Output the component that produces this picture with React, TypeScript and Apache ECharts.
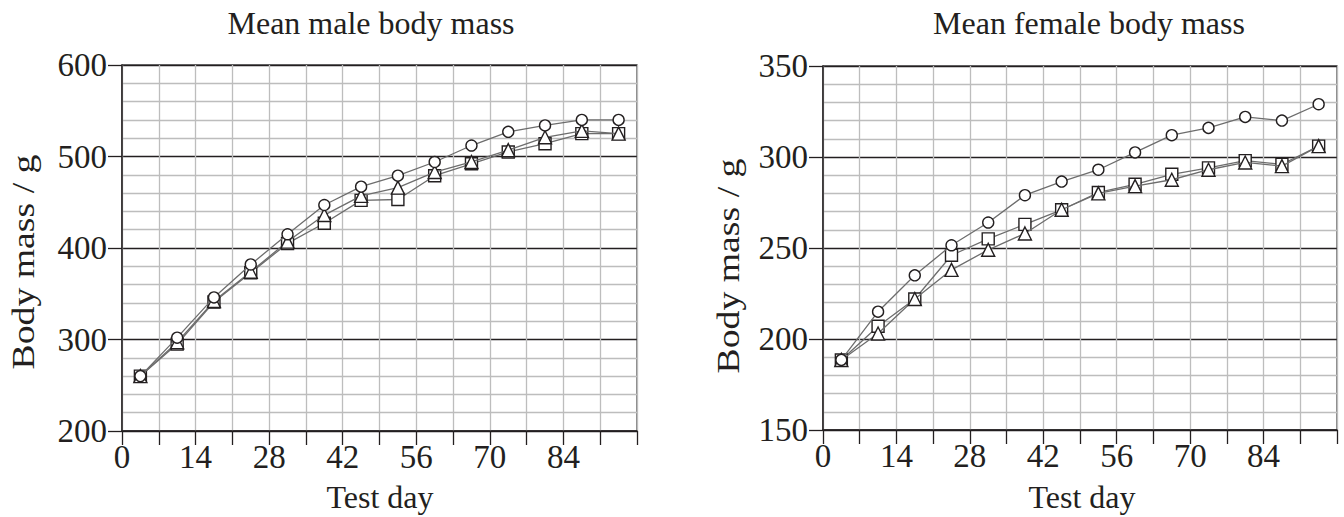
import React, { useEffect, useRef } from "react";
import * as echarts from "echarts";

const days = [3.5, 10.5, 17.5, 24.5, 31.5, 38.5, 45.5, 52.5, 59.5, 66.5, 73.5, 80.5, 87.5, 94.5];

const maleCircle = [260, 302, 346, 382, 415, 447, 467, 479, 494, 512, 527, 534, 540, 540];
const maleSquare = [260, 295, 341, 373, 405, 427, 452, 453, 479, 492, 505, 514, 525, 525];
const maleTriangle = [260, 297, 342, 374, 407, 436, 457, 466, 483, 494, 507, 521, 528, 525];

const femaleCircle = [188.5, 215, 235, 251.5, 264, 279, 286.5, 293, 302.5, 312, 316, 322, 320, 329];
const femaleSquare = [188.5, 207, 222, 246, 255, 263, 271, 280.5, 285, 290.5, 294, 298, 296, 306];
const femaleTriangle = [188.5, 203, 222, 238, 249, 258, 271, 280, 284, 287.5, 293, 297, 295, 306];

const xTickLabels = [0, 14, 28, 42, 56, 70, 84];
const titles = ["Mean male body mass", "Mean female body mass"];
const xName = "Test day";
const yName = "Body mass / g";

const FONT = "'Liberation Serif', 'Times New Roman', serif";
const INK = "#231f20";
const GRAY = "#bdbdbd";

function pairs(ys: number[]) {
  return days.map((d, i) => [d, ys[i]]);
}

export default function App() {
  const ref = useRef<HTMLDivElement>(null);

  useEffect(() => {
    if (!ref.current) return;
    const chart = echarts.init(ref.current, null, { renderer: "svg" });

    const grids = [
      { left: 122, top: 65, width: 515, height: 366 },
      { left: 823, top: 66, width: 514, height: 364 },
    ];

    const xAxis = [0, 1].map((g) => ({
      type: "value",
      gridIndex: g,
      min: 0,
      max: 98,
      interval: 14,
      axisLine: { show: true, onZero: false, lineStyle: { color: INK, width: 1.5 } },
      axisTick: { show: true, inside: false, length: 14, lineStyle: { color: INK, width: 1.3 } },
      minorTick: { show: true, splitNumber: 2, length: 14, lineStyle: { color: INK, width: 1.3 } },
      axisLabel: {
        show: true,
        margin: 9,
        fontSize: 33,
        fontFamily: FONT,
        color: INK,
        hideOverlap: false,
        showMaxLabel: true,
        showMinLabel: true,
        formatter: (v: number) => (xTickLabels.indexOf(v) >= 0 ? String(v) : ""),
      },
      splitLine: { show: true, lineStyle: { color: GRAY, width: 1.3 } },
      minorSplitLine: { show: true, lineStyle: { color: GRAY, width: 1.3 } },
    }));

    const yRanges = [
      { min: 200, max: 600, interval: 100 },
      { min: 150, max: 350, interval: 50 },
    ];

    const yAxis = [0, 1].map((g) => ({
      type: "value",
      gridIndex: g,
      min: yRanges[g].min,
      max: yRanges[g].max,
      interval: yRanges[g].interval,
      axisLine: { show: true, onZero: false, lineStyle: { color: INK, width: 1.5 } },
      axisTick: { show: true, inside: false, length: 14, lineStyle: { color: INK, width: 1.3 } },
      minorTick: { show: false, splitNumber: 5 },
      axisLabel: {
        show: true,
        margin: 15,
        fontSize: 33,
        fontFamily: FONT,
        color: INK,
        showMaxLabel: true,
        showMinLabel: true,
      },
      splitLine: { show: true, lineStyle: { color: INK, width: 1.3 } },
      minorSplitLine: { show: true, lineStyle: { color: GRAY, width: 1.3 } },
    }));

    const mk = (g: number, ys: number[], symbol: string, size: number, z: number) => ({
      type: "line",
      xAxisIndex: g,
      yAxisIndex: g,
      data: pairs(ys),
      symbol,
      symbolSize: size,
      showAllSymbol: true,
      z,
      lineStyle: { color: "#6d6d6d", width: 1.3 },
      itemStyle: { color: "#ffffff", borderColor: INK, borderWidth: 1.4 },
    });

    const series = [
      mk(0, maleSquare, "rect", 12, 3),
      mk(0, maleTriangle, "triangle", 13, 4),
      mk(0, maleCircle, "circle", 11, 5),
      mk(1, femaleSquare, "rect", 12, 3),
      mk(1, femaleTriangle, "triangle", 13, 4),
      mk(1, femaleCircle, "circle", 11, 5),
    ];

    const textStyle = (text: string, size: number) => ({
      text,
      fontSize: size,
      fontFamily: FONT,
      fill: INK,
      textAlign: "center",
      textVerticalAlign: "middle",
    });

    const graphic = [
      { type: "text", x: 371, y: 23, style: textStyle(titles[0], 32) },
      { type: "text", x: 1089, y: 23, style: textStyle(titles[1], 32) },
      { type: "text", x: 380, y: 497, style: textStyle(xName, 32) },
      { type: "text", x: 1082, y: 497, style: textStyle(xName, 32) },
      { type: "text", x: 23, y: 262, rotation: Math.PI / 2, scaleX: 1.18, style: textStyle(yName, 32) },
      { type: "text", x: 728, y: 266, rotation: Math.PI / 2, scaleX: 1.18, style: textStyle(yName, 32) },
    ];

    chart.setOption({
      animation: false,
      backgroundColor: "#ffffff",
      grid: grids.map((g) => ({ ...g, show: true, borderColor: "#4a4a4a", borderWidth: 1.3, backgroundColor: "transparent" })),
      xAxis,
      yAxis,
      series,
      graphic,
    });

    return () => chart.dispose();
  }, []);

  return (
    <div
      ref={ref}
      style={{ position: "fixed", left: 0, top: 0, width: 1344, height: 517 }}
    />
  );
}
